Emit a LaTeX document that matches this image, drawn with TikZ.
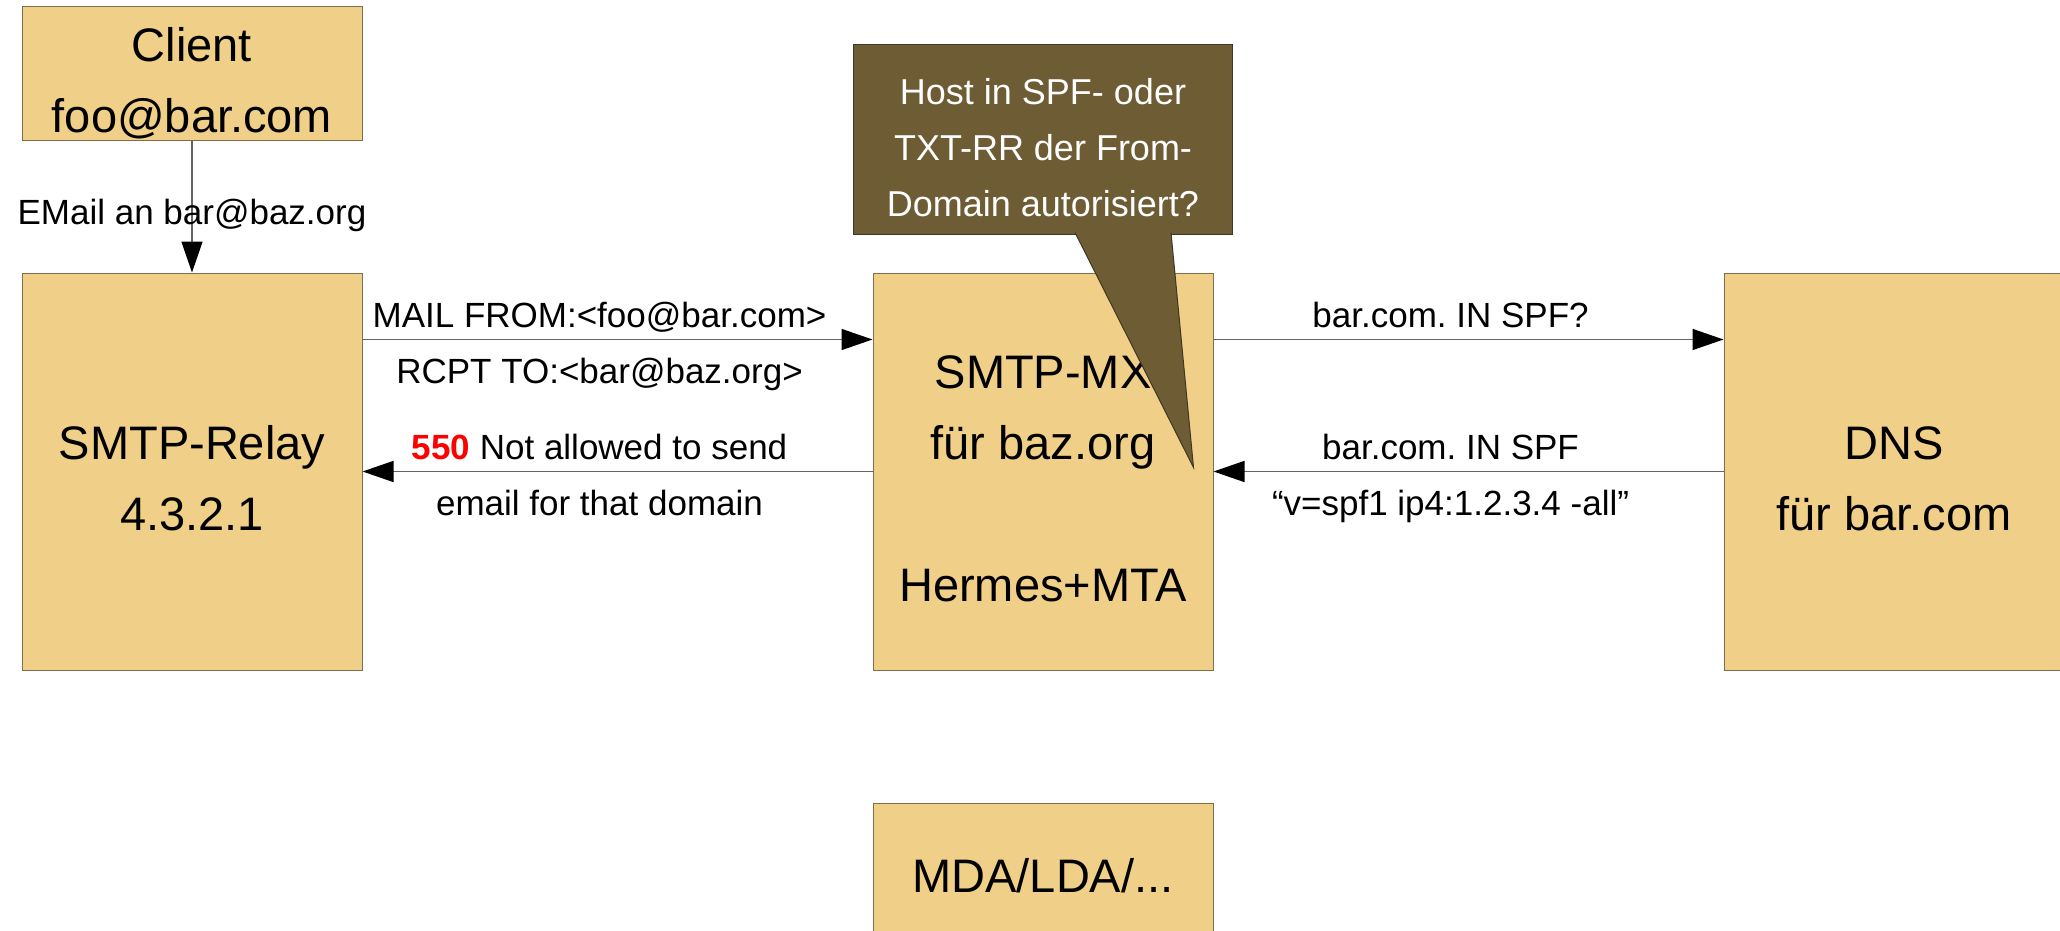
\documentclass[tikz,border=0pt]{standalone}
\usepackage{fontspec}
\setmainfont{Liberation Sans}
\usepackage{tikz}
\usepackage{xcolor}
\usetikzlibrary{positioning,arrows.meta}

\definecolor{boxfill}{RGB}{240,207,136}
\definecolor{boxline}{RGB}{128,110,75}
\definecolor{notefill}{RGB}{110,92,52}
\definecolor{wire}{RGB}{100,100,100}

\frenchspacing
\newcommand{\firstline}{\rule{0pt}{1.2em}}

\begin{document}
\begin{tikzpicture}[
      node distance=66pt and 255pt,
      host/.style={draw=boxline,fill=boxfill,line width=0.5pt,align=center,minimum width=170pt,inner sep=0pt,font=\fontsize{23.5}{35.5}\selectfont,
        execute at end node={\rule[-5pt]{0pt}{5pt}}},
      tall/.style={host,minimum height=198.5pt},
      flat/.style={host,minimum height=66.5pt,inner ysep=-2pt},
      note/.style={draw=boxline!50!black,fill=notefill,line width=0.5pt,text=white,align=center,minimum width=189.5pt,minimum height=94.5pt,inner sep=0pt,font=\fontsize{18}{28}\selectfont},
      msg/.style={font=\fontsize{17.5}{28}\selectfont,anchor=base,inner sep=0pt},
      arrow/.style={draw=wire,line width=0.75pt,-{Triangle[length=15.5pt,width=10.5pt,color=black]}}]
    \useasboundingbox (0,0) rectangle (1030pt,-465.5pt);
    \node[tall] (relay) at (96pt,-235.75pt) {\firstline SMTP-Relay\\4.3.2.1};
    \node[flat,above=of relay] (client) {\firstline Client\\foo@bar.com};
    \node[tall,right=of relay] (mx) {\firstline SMTP-MX\\für baz.org\\[35.5pt]Hermes+MTA};
    \node[tall,right=of mx] (dns) {\firstline DNS\\für bar.com};
    \node[flat,below=of mx] (mda) {\firstline MDA/LDA/...};
    \node[note,above=19pt of mx] (note) {\firstline Host in SPF- oder\\TXT-RR der From-\\Domain autorisiert?};
    \coordinate (tip) at ([xshift=-10pt,yshift=2pt]mx.east);
    \path[fill=notefill,draw=boxline!50!black,line width=0.5pt] ([xshift=16pt,yshift=1pt]note.south) -- (tip) -- ([xshift=64pt,yshift=1pt]note.south);
    \draw[arrow] (client) -- node[msg,yshift=-9pt] {EMail an bar@baz.org} (relay);
    \draw[arrow] ([yshift=66pt]relay.east) --
      node[msg,xshift=-9pt,yshift=6pt] {MAIL FROM:<foo@bar.com>}
      node[msg,xshift=-9pt,yshift=-22pt] {RCPT TO:<bar@baz.org>} ([yshift=66pt]mx.west);
    \draw[arrow] (mx) --
      node[msg,xshift=-9pt,yshift=6pt] {\textbf{\color{red}550} Not allowed to send}
      node[msg,xshift=-9pt,yshift=-22pt] {email for that domain} (relay);
    \draw[arrow] ([yshift=66pt]mx.east) --
      node[msg,xshift=-9pt,yshift=6pt] {bar.com. IN SPF?} ([yshift=66pt]dns.west);
    \draw[arrow] (dns) --
      node[msg,xshift=-9pt,yshift=6pt] {bar.com. IN SPF}
      node[msg,xshift=-9pt,yshift=-22pt] {“v=spf1 ip4:1.2.3.4 -all”} (mx);
  \end{tikzpicture}
\end{document}
